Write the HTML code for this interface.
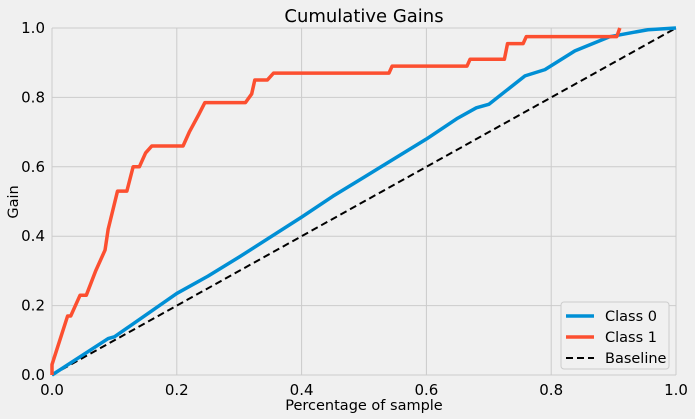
<!DOCTYPE html>
<html><head><meta charset="utf-8"><style>
body{margin:0;background:#f0f0f0;}
svg{display:block;font-family:"DejaVu Sans","Liberation Sans",sans-serif;}
</style></head><body>
<svg id="chart" width="695" height="419"></svg>
<script>
const xTicks=[0,0.2,0.4,0.6,0.8,1.0];
const yTicks=[0,0.2,0.4,0.6,0.8,1.0];
const tickLabels=["0.0","0.2","0.4","0.6","0.8","1.0"];
const class1X=[0,0,0.025,0.03,0.045,0.055,0.07,0.085,0.09,0.105,0.12,0.13,0.14,0.15,0.16,0.21,0.22,0.235,0.245,0.31,0.32,0.325,0.345,0.355,0.54,0.545,0.665,0.67,0.725,0.73,0.755,0.76,0.905,0.91];
const class1Y=[0,0.03,0.17,0.17,0.23,0.23,0.3,0.36,0.42,0.53,0.53,0.6,0.6,0.64,0.66,0.66,0.70,0.75,0.785,0.785,0.81,0.85,0.85,0.87,0.87,0.89,0.89,0.91,0.91,0.955,0.955,0.975,0.975,1.0];
const class0X=[0,0.09,0.1,0.2,0.25,0.3,0.4,0.45,0.5,0.6,0.65,0.68,0.7,0.758,0.79,0.838,0.894,0.955,1];
const class0Y=[0,0.105,0.11,0.235,0.285,0.34,0.455,0.515,0.57,0.68,0.74,0.77,0.78,0.862,0.88,0.934,0.975,0.995,1];
const baseX=[0,1];
const baseY=[0,1];
const X0=52,X1=676,Y0=375,Y1=28;
const sx=v=>X0+v*(X1-X0);
const sy=v=>Y0-v*(Y0-Y1);
const svg=document.getElementById('chart');
const NS='http://www.w3.org/2000/svg';
function mk(tag,attrs,parent){const e=document.createElementNS(NS,tag);for(const k in attrs)e.setAttribute(k,attrs[k]);(parent||svg).appendChild(e);return e;}
const grid=mk('g',{});


xTicks.forEach((t,i)=>{
  const l=mk('line',{x1:sx(t),x2:sx(t),y1:Y1,y2:Y0,stroke:'#cbcbcb','stroke-width':1},grid);
  
  
  const tx=mk('text',{x:sx(t),y:Y0+20,'text-anchor':'middle','font-size':15,fill:'#000'});
  tx.textContent=tickLabels[i];
  
  
});
yTicks.forEach((t,i)=>{
  const l=mk('line',{x1:X0,x2:X1,y1:sy(t),y2:sy(t),stroke:'#cbcbcb','stroke-width':1},grid);
  
  
  const tx=mk('text',{x:X0-7,y:sy(t)+5,'text-anchor':'end','font-size':15,fill:'#000'});
  tx.textContent=tickLabels[i];
  
  
});
function line(xs,ys,color,name,dash){
  const p=mk('polyline',{points:xs.map((x,i)=>sx(x)+','+sy(ys[i])).join(' '),fill:'none',stroke:color,'stroke-width':dash?2:3.5,'stroke-linejoin':'round'});
  if(dash)p.setAttribute('stroke-dasharray','7,4');
  
  
}
line(baseX,baseY,'#000','baseline-line',true);
line(class0X,class0Y,'#008fd5','class-0-line');
line(class1X,class1Y,'#fc4f30','class-1-line');
const title=mk('text',{x:364,y:22,'text-anchor':'middle','font-size':18,fill:'#000'});
title.textContent='Cumulative Gains';


const xl=mk('text',{x:364,y:410,'text-anchor':'middle','font-size':14.5,fill:'#000'});
xl.textContent='Percentage of sample';


const yl=mk('text',{x:18,y:202,'text-anchor':'middle','font-size':14.5,fill:'#000',transform:'rotate(-90 18 202)'});
yl.textContent='Gain';


const lg=mk('g',{});


mk('rect',{x:561,y:302,width:108,height:67,rx:3,fill:'#f0f0f0',stroke:'#cccccc'},lg);
const items=[['Class 0','#008fd5',false],['Class 1','#fc4f30',false],['Baseline','#000',true]];
items.forEach((it,i)=>{
  const y=316+i*21;
  const g=mk('g',{},lg);
  
  
  const l=mk('line',{x1:566,x2:594,y1:y,y2:y,stroke:it[1],'stroke-width':it[2]?2:3.5},g);
  if(it[2])l.setAttribute('stroke-dasharray','7,4');
  const t=mk('text',{x:605,y:y+5,'font-size':14.5,fill:'#000'},g);
  t.textContent=it[0];
});
</script>
</body></html>
